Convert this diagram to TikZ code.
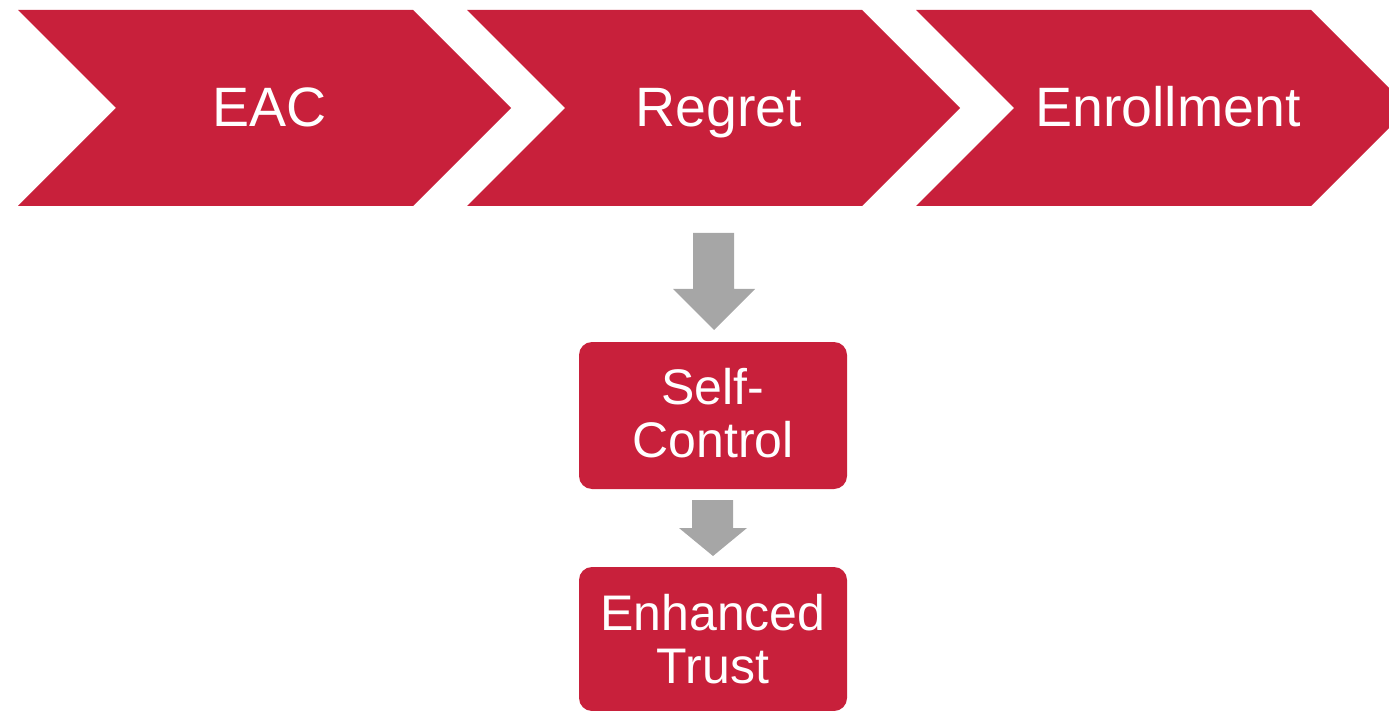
\documentclass[tikz,border=0pt]{standalone}
\usepackage{fontspec}
\setmainfont{Liberation Sans}
\definecolor{chevred}{HTML}{C8203B}
\definecolor{arrgray}{HTML}{A6A6A6}
\begin{document}
\begin{tikzpicture}[x=1pt,y=-1pt,
  chevtext/.style={text=white, font=\fontsize{55.5}{55.5}\selectfont, anchor=base, inner sep=0pt},
  stepbox/.style={fill=chevred, rounded corners=13pt, minimum width=268pt, inner sep=0pt},
  boxtext/.style={text=white, font=\fontsize{50}{53}\selectfont, align=center, anchor=base, inner sep=0pt},
  blockarrow/.style={fill=arrgray}]
\useasboundingbox (0,0) rectangle (1389,711);
\clip (0,0) rectangle (1389,711);

% process chevrons
\foreach \x/\name/\txt in {18/eac/EAC, 467/regret/Regret, 916/enroll/Enrollment} {
  \fill[chevred] (\x,10) -- ++(395,0) -- ++(98,98) -- ++(-98,98) -- ++(-395,0) -- ++(98,-98) -- cycle;
  \node[chevtext] (\name) at (\x+252,127) {\txt};
}

% outcome boxes (text placed by the baseline of its last line)
\node[stepbox, minimum height=147pt] (self) at (713,415.5) {};
\node[boxtext] (selftxt) at (self.center |- 0,457) {Self-\\Control};
\node[stepbox, minimum height=144pt] (trust) at (713,639) {};
\node[boxtext] (trusttxt) at (trust.center |- 0,683) {Enhanced\\Trust};

% block arrows
\fill[blockarrow] (693,233) -- (734,233) -- (734,289) -- (755,289) -- (714,330) -- (673,289) -- (693,289) -- cycle;
\fill[blockarrow] (692,500) -- (733,500) -- (733,528) -- (747,528) -- (713,556) -- (679,528) -- (692,528) -- cycle;
\end{tikzpicture}
\end{document}
